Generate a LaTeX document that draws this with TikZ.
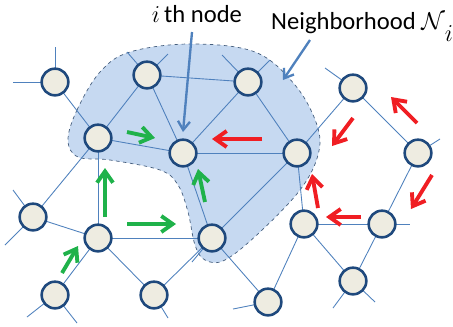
\documentclass[tikz,border=0pt]{standalone}
\usepackage{fontspec}
\setmainfont{Carlito}
\usepackage{tikz}
\usetikzlibrary{arrows.meta}
\definecolor{nodefill}{HTML}{EEECE1}
\definecolor{nodeline}{HTML}{1F497D}
\definecolor{linkblue}{HTML}{4F81BD}
\definecolor{hoodfill}{HTML}{C6D9F1}
\definecolor{agree}{HTML}{1FB24A}
\definecolor{pull}{HTML}{F01E23}
\tikzset{
  vtx/.style={circle,draw=nodeline,fill=nodefill,line width=2.2pt,minimum size=0.8cm,inner sep=0pt},
  link/.style={linkblue,line width=0.75pt},
  hood/.style={fill=hoodfill,draw=nodeline!60!gray,dashed,line width=0.6pt},
  gmv/.style={agree,line width=3.3pt,-{Straight Barb[length=3.4mm,width=4.8mm]}},
  rmv/.style={pull,line width=3.3pt,-{Straight Barb[length=3.4mm,width=4.8mm]}},
  callout/.style={linkblue,line width=2pt,-{Straight Barb[length=2.6mm,width=3.6mm]}},
  lbl/.style={font=\fontsize{21}{24}\selectfont,inner sep=0pt}
}

\begin{document}
\begin{tikzpicture}[x=0.03cm,y=-0.03cm]
\useasboundingbox (0,0) rectangle (453,326);
% neighborhood of the i-th node
\draw[hood] plot[smooth cycle,tension=0.6] coordinates {(68,140) (77,110) (100,72) (130,52) (190,44) (255,52) (295,85) (317,125) (318,155) (300,190) (260,232) (225,260) (205,260) (195,245) (188,212) (178,185) (160,170) (110,160) (78,157)};
% vertices
\foreach \n/\x/\y in {v1/55/82,v2/147/75,v3/98/138,vi/183/153,v5/248/82,v6/297/153,v7/353/88,v8/418/153,
  v9/98/238,v10/33/217,v11/55/295,v12/154/295,v13/212/238,v14/304/224,v15/382/224,v16/353/281,v17/268/302}
  \coordinate (\n) at (\x,\y);
\foreach \a/\b in {v1/v3,v2/v3,v2/vi,v2/v5,v3/vi,v3/v9,v3/v10,vi/v5,vi/v6,vi/v13,v5/v6,v6/v7,v6/v13,v6/v14,
  v7/v8,v8/v15,v9/v10,v9/v11,v9/v12,v9/v13,v12/v13,v13/v17,v14/v15,v14/v16,v14/v17,v15/v16}
  \draw[link] (\a) -- (\b);
% loose ends
\foreach \a/\x/\y in {v1/55/47,v1/13/82,v2/127/52,v2/168/54,v5/222/55,v5/270/60,v7/325/68,v8/440/139,
  v10/13/190,v10/5/245,v11/27/317,v11/77/323,v12/168/318,v13/192/262,v15/410/224,v16/333/308,v16/375/302,v17/233/309}
  \draw[link] (\a) -- (\x,\y);
\foreach \n in {v1,v2,v3,vi,v5,v6,v7,v8,v9,v10,v11,v12,v13,v14,v15,v16,v17}
  \node[vtx] at (\n) {};
% moves
\draw[gmv] (127,132) -- (155,138);
\draw[gmv] (105,217) -- (105,168);
\draw[gmv] (127,224) -- (176,224);
\draw[gmv] (62,273) -- (78,246);
\draw[gmv] (205,202) -- (198,169);
\draw[rmv] (262,139) -- (212,139);
\draw[rmv] (353,118) -- (332,146);
\draw[rmv] (417,123) -- (391,97);
\draw[rmv] (432,175) -- (411,209);
\draw[rmv] (361,217) -- (326,217);
\draw[rmv] (318,208) -- (312,174);
% labels
\node[lbl,anchor=base] (ilbl) at (197,22) {$i$\,th node};
\node[lbl,anchor=base west] (hoodlbl) at (271,29) {Neighborhood $\mathcal{N}$\raisebox{-0.5em}{$i$}};
\coordinate (hoodtip) at (283,80);
\draw[callout] (192,32) -- (183,132);
\draw[callout] (310,40) -- (hoodtip);
\end{tikzpicture}
\end{document}
